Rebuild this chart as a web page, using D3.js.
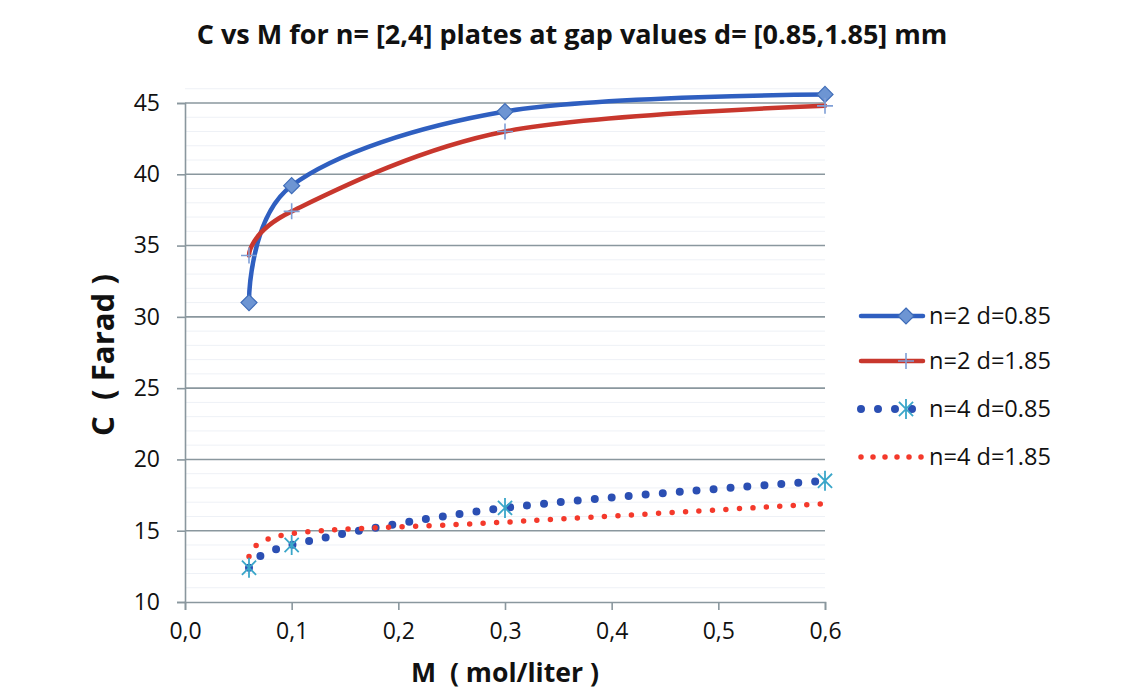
<!DOCTYPE html>
<html lang="en">
<head>
<meta charset="UTF-8">
<title>C vs M</title>
<script src="https://d3js.org/d3.v7.min.js"></script>
<style>
  body { margin: 0; background: #fff; font-family: "Open Sans", sans-serif; }
  svg text { fill: #111; }
</style>
</head>
<body>
<svg id="chart" width="1143" height="692"></svg>
<script>
// values
const molarity = [0.06, 0.1, 0.3, 0.6];
const n2d085 = [31.0, 39.2, 44.4, 45.6];
const n2d185 = [34.3, 37.4, 43.0, 44.8];
const n4d085 = [12.4, 14.0, 16.6, 18.5];
const n4d185 = [13.2, 14.8, 15.6, 16.9];
const xTicks = [0, 0.1, 0.2, 0.3, 0.4, 0.5, 0.6];
const yTicks = [10, 15, 20, 25, 30, 35, 40, 45];

const series = [
  { name: "n=2 d=0.85", values: n2d085, color: "#2f5fc0", width: 4.5, dash: null, legendDash: null, marker: "diamond" },
  { name: "n=2 d=1.85", values: n2d185, color: "#c8372d", width: 4.5, dash: null, legendDash: null, marker: "plus" },
  { name: "n=4 d=0.85", values: n4d085, color: "#2b4fb3", width: 8, dash: "0,17", legendDash: "0,17", marker: "star" },
  { name: "n=4 d=1.85", values: n4d185, color: "#f4392b", width: 5.5, dash: "0,13.5", legendDash: "0,12", marker: null }
];

const svg = d3.select("#chart");
const x = d3.scaleLinear().domain([0, 0.6]).range([185, 825]);
const y = d3.scaleLinear().domain([10, 45]).range([602, 103]);

// shrink or grow a text until it is as wide as in the picture
function fitWidth(sel, target) {
  const fs = parseFloat(sel.style("font-size"));
  const w = sel.node().getComputedTextLength();
  if (w > 0) sel.style("font-size", (fs * target / w).toFixed(2) + "px");
}

// faint minor grid
svg.append("g").selectAll("line")
  .data(d3.range(10, 47, 1).filter(v => v % 5 !== 0))
  .enter().append("line")
  .attr("x1", x(0)).attr("x2", x(0.6))
  .attr("y1", d => y(d)).attr("y2", d => y(d))
  .attr("stroke", "#eef1f6").attr("stroke-width", 1);

// major grid
svg.append("g").selectAll("line")
  .data(yTicks.slice(1))
  .enter().append("line")
  .attr("x1", x(0)).attr("x2", x(0.6))
  .attr("y1", d => y(d)).attr("y2", d => y(d))
  .attr("stroke", "#8a979e").attr("stroke-width", 1.6);

// axes
const yAxis = svg.append("g")
  .attr("transform", `translate(${x(0)},0)`)
  .call(d3.axisLeft(y).tickValues(yTicks).tickSize(8).tickPadding(17).tickFormat(d3.format("d")));
const xAxis = svg.append("g")
  .attr("transform", `translate(0,${y(10)})`)
  .call(d3.axisBottom(x).tickValues(xTicks).tickSize(8).tickPadding(13)
    .tickFormat(d => d3.format(".1f")(d).replace(".", ",")));
[yAxis, xAxis].forEach(a => {
  a.attr("font-size", null).attr("font-family", null);
  a.select(".domain").attr("stroke", "#8a979e").attr("stroke-width", 1.6);
  a.selectAll(".tick line").attr("stroke", "#8a979e").attr("stroke-width", 1.6);
  a.selectAll("text")
    .style("font-size", "23px")
    .style("font-family", "'Open Sans', sans-serif")
    .attr("fill", "#111");
});

// lines
const line = d3.line()
  .x((d, i) => x(molarity[i]))
  .y(d => y(d))
  .curve(d3.curveCardinal.tension(0));

series.forEach(s => {
  svg.append("path")
    .attr("d", line(s.values))
    .attr("fill", "none")
    .attr("stroke", s.color)
    .attr("stroke-width", s.width)
    .attr("stroke-linecap", "round")
    .attr("stroke-dasharray", s.dash);
});

function drawMarker(g, type, cx, cy) {
  if (type === "diamond") {
    g.append("path")
      .attr("d", `M${cx},${cy - 8}L${cx + 8},${cy}L${cx},${cy + 8}L${cx - 8},${cy}Z`)
      .attr("fill", "#6d95d3").attr("stroke", "#3e6cb8").attr("stroke-width", 1.2);
  } else if (type === "plus") {
    g.append("path")
      .attr("d", `M${cx - 8},${cy}H${cx + 8}M${cx},${cy - 8}V${cy + 8}`)
      .attr("stroke", "#7f9fd6").attr("stroke-width", 1.6).attr("fill", "none");
  } else if (type === "star") {
    const r = 10;
    let d = `M${cx},${cy - r}V${cy + r}`;
    [45, 135].forEach(a => {
      const dx = r * Math.cos(a * Math.PI / 180), dy = r * Math.sin(a * Math.PI / 180);
      d += `M${cx - dx},${cy - dy}L${cx + dx},${cy + dy}`;
    });
    g.append("path").attr("d", d)
      .attr("stroke", "#3aa6c9").attr("stroke-width", 1.8).attr("fill", "none");
  }
}

const markers = svg.append("g");
series.forEach(s => {
  if (!s.marker) return;
  s.values.forEach((v, i) => drawMarker(markers, s.marker, x(molarity[i]), y(v)));
});

// title and axis titles
const title = svg.append("text")
  .attr("x", 572).attr("y", 44)
  .attr("text-anchor", "middle")
  .style("font-size", "24px").attr("font-weight", "bold")
  .text("C vs M for n= [2,4] plates at gap values d= [0.85,1.85] mm");
fitWidth(title, 751);

const xTitle = svg.append("text")
  .attr("x", 505).attr("y", 682)
  .attr("text-anchor", "middle")
  .style("font-size", "22px").attr("font-weight", "bold")
  .attr("xml:space", "preserve")
  .text("M  ( mol/liter )");
fitWidth(xTitle, 188);

const yTitle = svg.append("text")
  .attr("transform", "translate(114,355) rotate(-90)")
  .attr("text-anchor", "middle")
  .style("font-size", "22px").attr("font-weight", "bold")
  .attr("xml:space", "preserve")
  .text("C  ( Farad )");
fitWidth(yTitle, 162);

// legend
const legendY = [316, 361, 409, 457];
const legend = svg.append("g");
series.forEach((s, i) => {
  const ly = legendY[i];
  legend.append("path")
    .attr("d", `M861,${ly}H923`)
    .attr("stroke", s.color)
    .attr("stroke-width", s.width)
    .attr("stroke-linecap", "round")
    .attr("stroke-dasharray", s.legendDash);
  if (s.marker) drawMarker(legend, s.marker, 906, ly);
  const t = legend.append("text")
    .attr("x", 929).attr("y", ly + 8)
    .style("font-size", "22px")
    .text(s.name);
  fitWidth(t, 122);
});
</script>
</body>
</html>
